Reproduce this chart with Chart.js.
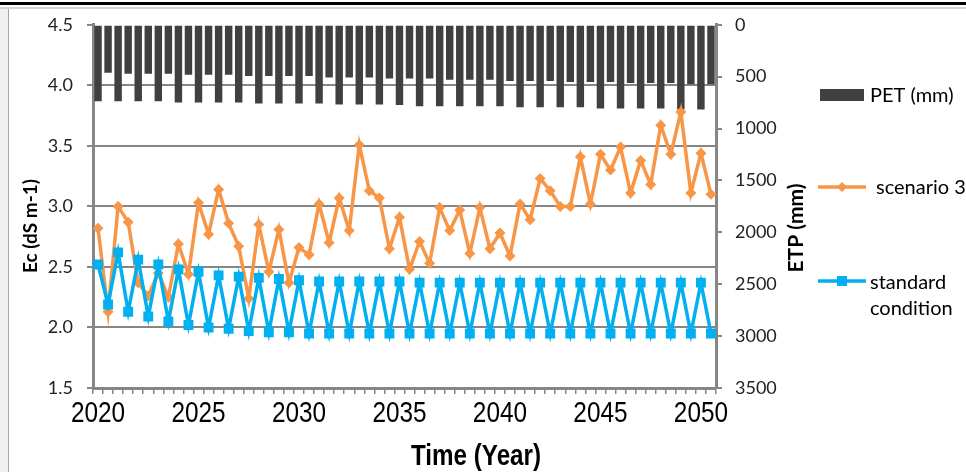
<!DOCTYPE html>
<html>
<head>
<meta charset="utf-8">
<script src="https://cdn.jsdelivr.net/npm/chart.js@4.4.1/dist/chart.umd.min.js"></script>
<style>
  html, body { margin: 0; padding: 0; background: #fff; }
  #wrap { position: relative; width: 966px; height: 472px; overflow: hidden; }
  #wrap canvas { position: absolute; left: 0; top: 0; }
  .fr { position: absolute; }
  #top1 { left: 0; top: 2px; width: 966px; height: 3px; background: #000; }
  #top2 { left: 0; top: 7px; width: 966px; height: 2px; background: #d4d4d4; }
  #left { left: 0; top: 9px; width: 8px; height: 463px; background: #f0f0f0; border-right: 1px solid #a6a6a6; }
</style>
</head>
<body>
<div id="wrap">
  <canvas id="chart" width="966" height="472"></canvas>
  <div class="fr" id="top1"></div>
  <div class="fr" id="top2"></div>
  <div class="fr" id="left"></div>
</div>
<script>
// Categories: half-year steps 2020 .. 2050.5
const periods = [];
for (let y = 2020; y <= 2050.5; y += 0.5) periods.push(String(y));
const tickYears = ["2020", "2025", "2030", "2035", "2040", "2045", "2050"];

// PET (mm), right axis (reversed)
const pet = [
  737, 462, 737, 472, 737, 472, 737, 472, 749, 482, 749, 482, 749, 482, 749, 494,
  759, 494, 759, 494, 759, 494, 759, 507, 769, 507, 769, 507, 769, 518, 772, 518,
  784, 518, 784, 529, 784, 529, 784, 529, 784, 542, 794, 542, 794, 542, 794, 552,
  794, 552, 807, 552, 807, 561, 807, 561, 807, 561, 816, 574, 816, 574
];

// Ec (dS m-1), scenario 3
const scenario3 = [
  2.82, 2.13, 3.00, 2.87, 2.37, 2.26, 2.45, 2.25, 2.69, 2.44, 3.03, 2.77, 3.14, 2.86, 2.67, 2.24,
  2.85, 2.46, 2.81, 2.37, 2.66, 2.60, 3.02, 2.70, 3.07, 2.80, 3.51, 3.13, 3.07, 2.65, 2.91, 2.48,
  2.71, 2.53, 2.99, 2.80, 2.97, 2.61, 2.99, 2.65, 2.78, 2.59, 3.02, 2.89, 3.23, 3.13, 3.00, 3.00,
  3.41, 3.02, 3.43, 3.30, 3.49, 3.11, 3.38, 3.18, 3.67, 3.43, 3.78, 3.11, 3.44, 3.10
];

// Ec (dS m-1), standard condition
const standard = [
  2.52, 2.19, 2.62, 2.13, 2.56, 2.09, 2.52, 2.05, 2.48, 2.02, 2.46, 2.00, 2.43, 1.99, 2.42, 1.97,
  2.41, 1.96, 2.40, 1.96, 2.39, 1.95, 2.38, 1.95, 2.38, 1.95, 2.38, 1.95, 2.38, 1.95, 2.38, 1.95,
  2.37, 1.95, 2.37, 1.95, 2.37, 1.95, 2.37, 1.95, 2.37, 1.95, 2.37, 1.95, 2.37, 1.95, 2.37, 1.95,
  2.37, 1.95, 2.37, 1.95, 2.37, 1.95, 2.37, 1.95, 2.37, 1.95, 2.37, 1.95, 2.37, 1.95
];

const ORANGE = "#f79646";
const BLUE = "#00b0f0";
const DARK = "#404040";
const AXIS = "#868686";
const tickFont = { family: "Lato, 'Open Sans', sans-serif", size: 18 };

// condensed text helper (the x axis uses a narrow face)
function narrowText(g, txt, x, y, font, sx) {
  g.save();
  g.font = font;
  g.textAlign = "center";
  g.textBaseline = "middle";
  g.translate(x, y);
  g.scale(sx, 1);
  g.fillText(txt, 0, 0);
  g.restore();
}

// Axis titles, x tick labels + legend drawn by hand
const extras = {
  id: "extras",
  afterDraw(c) {
    const g = c.ctx;
    const xs = c.scales.x;
    g.save();
    g.fillStyle = "#000";

    // x tick labels, every 10th category
    xs.ticks.forEach((t, i) => {
      if (i % 10 !== 0) return;
      narrowText(g, tickYears[i / 10], xs.getPixelForTick(i), 414, "29px 'Liberation Sans', Arial, sans-serif", 0.84);
    });
    narrowText(g, "Time (Year)", 476, 457, "bold 29px 'Liberation Sans', Arial, sans-serif", 0.835);

    g.textAlign = "center";
    g.textBaseline = "middle";
    g.font = "bold 19px Lato, sans-serif";
    g.translate(31, 226);
    g.rotate(-Math.PI / 2);
    g.fillText("Ec (dS m-1)", 0, 0);
    g.setTransform(1, 0, 0, 1, 0, 0);

    g.font = "bold 21px Lato, sans-serif";
    g.translate(796, 228);
    g.rotate(-Math.PI / 2);
    g.fillText("ETP (mm)", 0, 0);
    g.setTransform(1, 0, 0, 1, 0, 0);

    // legend
    g.textAlign = "left";
    g.font = "20px Lato, sans-serif";

    g.fillStyle = DARK;
    g.fillRect(820, 89, 44, 12);
    g.fillStyle = "#000";
    g.fillText("PET (mm)", 870, 96);

    g.strokeStyle = ORANGE;
    g.lineWidth = 3.5;
    g.beginPath();
    g.moveTo(818, 187);
    g.lineTo(866, 187);
    g.stroke();
    g.fillStyle = ORANGE;
    g.beginPath();
    g.moveTo(842, 182);
    g.lineTo(847, 187);
    g.lineTo(842, 192);
    g.lineTo(837, 187);
    g.closePath();
    g.fill();
    g.fillStyle = "#000";
    g.fillText("scenario 3", 876, 188);

    g.strokeStyle = BLUE;
    g.beginPath();
    g.moveTo(818, 281);
    g.lineTo(866, 281);
    g.stroke();
    g.fillStyle = BLUE;
    g.fillRect(837, 276, 10, 10);
    g.fillStyle = "#000";
    g.fillText("standard", 870, 283);
    g.fillText("condition", 870, 309);

    g.restore();
  },
};

const ctx = document.getElementById("chart").getContext("2d");
const chart = new Chart(ctx, {
  type: "bar",
  data: {
    labels: periods,
    datasets: [
      {
        type: "line",
        label: "standard condition",
        data: standard,
        yAxisID: "y",
        borderColor: BLUE,
        backgroundColor: BLUE,
        borderWidth: 3.5,
        tension: 0,
        pointStyle: "rect",
        pointRadius: 7,
        pointBorderWidth: 0,
        order: 0,
      },
      {
        type: "line",
        label: "scenario 3",
        data: scenario3,
        yAxisID: "y",
        borderColor: ORANGE,
        backgroundColor: ORANGE,
        borderWidth: 3.5,
        tension: 0,
        pointStyle: "rectRot",
        pointRadius: 5.5,
        pointBorderWidth: 0,
        order: 1,
      },
      {
        type: "bar",
        label: "PET (mm)",
        data: pet,
        yAxisID: "y2",
        backgroundColor: DARK,
        barPercentage: 0.74,
        categoryPercentage: 1,
        order: 2,
      },
    ],
  },
  options: {
    responsive: false,
    animation: false,
    layout: { padding: { top: 22, left: 0, right: 0, bottom: 0 } },
    plugins: { legend: { display: false }, tooltip: { enabled: false } },
    scales: {
      x: {
        offset: true,
        grid: { offset: true, drawOnChartArea: false, tickLength: 6, color: AXIS, lineWidth: 1.5 },
        border: { color: AXIS, width: 3 },
        ticks: {
          autoSkip: false,
          maxRotation: 0,
          font: { size: 10 },
          callback: () => "",
        },
        afterFit: (s) => { s.height = 84; },
      },
      y: {
        position: "left",
        min: 1.5,
        max: 4.5,
        grid: {
          color: (c) => (c.tick && c.tick.value === 4.5 ? "rgba(0,0,0,0)" : AXIS),
          tickColor: AXIS,
          lineWidth: 2,
          tickLength: 6,
        },
        border: { color: AXIS, width: 3 },
        ticks: {
          stepSize: 0.5,
          padding: 14,
          color: "#222",
          font: tickFont,
          callback: (v) => Number(v).toFixed(1),
        },
        afterFit: (s) => { s.width = 93; },
      },
      y2: {
        position: "right",
        reverse: true,
        min: 0,
        max: 3500,
        grid: { drawOnChartArea: false, color: AXIS, tickLength: 6, lineWidth: 2 },
        border: { color: AXIS, width: 3 },
        ticks: { stepSize: 500, padding: 13, color: "#222", font: tickFont, callback: (v) => String(v) },
        afterFit: (s) => { s.width = 250; },
      },
    },
  },
  plugins: [extras],
});
</script>
</body>
</html>
